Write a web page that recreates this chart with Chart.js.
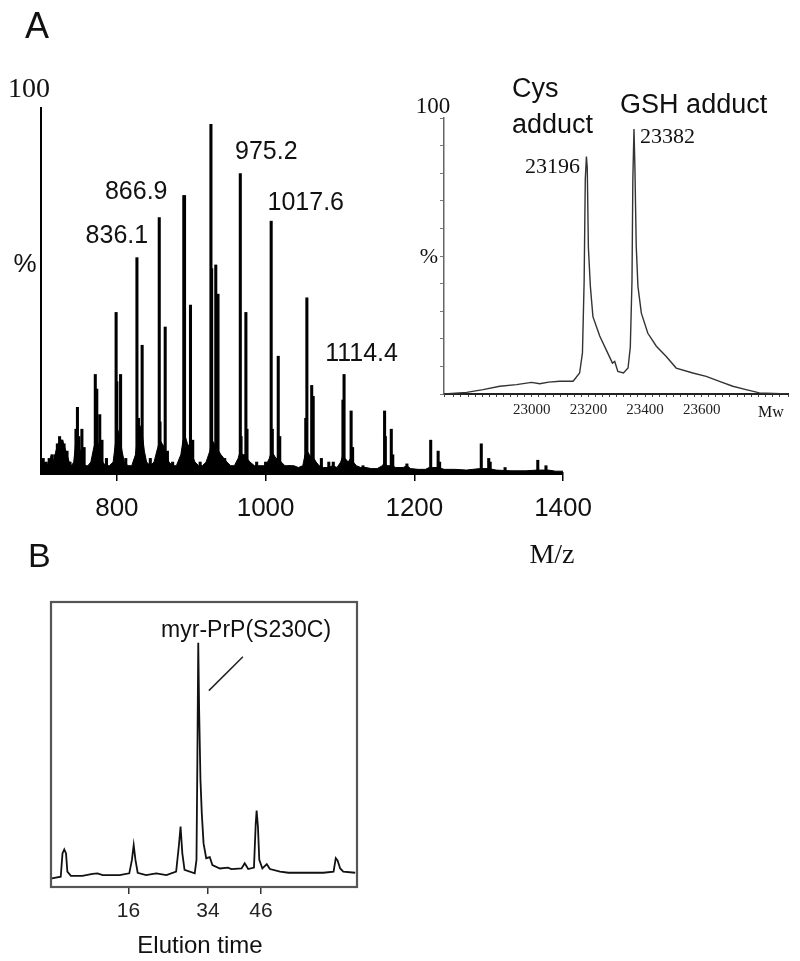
<!DOCTYPE html>
<html>
<head>
<meta charset="utf-8">
<script src="https://cdn.jsdelivr.net/npm/chart.js@4.4.1/dist/chart.umd.min.js"></script>
<style>
  body { margin: 0; background: #fff; width: 800px; height: 961px; position: relative; overflow: hidden; }
  canvas { position: absolute; }
</style>
</head>
<body>
<canvas id="canvas_ms" width="604" height="580" style="left:0;top:0"></canvas>
<canvas id="canvas_mw" width="400" height="380" style="left:400px;top:60px"></canvas>
<canvas id="canvas_hplc" width="400" height="381" style="left:0;top:580px"></canvas>
<script>
// Panel A: ESI spectrum (m/z, % intensity)
const msTicks = [800, 1000, 1200, 1400];
const stickMz = [701, 705, 709, 713, 717, 720, 723, 726, 729, 733, 737, 745, 747, 749, 753, 756, 771, 773, 777, 780,
  786, 799, 800, 805, 812, 827, 829, 834, 845, 857, 858, 865, 868, 875, 890, 891, 899, 902, 912, 926.5,
  927.5, 933, 936, 945, 966, 967, 973.5, 975, 988, 1000, 1007.5, 1009, 1017, 1019, 1032, 1054, 1055.5, 1062, 1064, 1075,
  1085, 1091, 1104, 1105.5, 1115, 1117, 1131, 1160, 1161, 1169, 1171, 1190, 1222, 1232, 1234, 1290, 1300, 1302, 1322, 1366,
  1377];
const stickInt = [4, 3, 4, 5, 5, 8, 10, 9, 8, 6, 3, 12, 18, 10, 12, 7, 27, 23, 16, 9,
  4, 44, 25, 27, 4, 59, 15, 35, 4, 70, 14, 40, 6, 3, 76, 76, 46, 9, 3, 95.5,
  56, 57, 49, 4, 82, 10, 44, 12, 3, 3, 69, 12, 32, 10, 2, 15, 48, 24, 21, 4,
  3, 3, 20, 27, 17, 7, 2, 17, 10, 12, 5, 2.5, 9, 6, 3, 8, 4, 3, 1.5, 3.5,
  2];
// dense noise under the sticks
const baseEnvelope = [[698,4],[700,2],[703,3],[706,2],[709,3],[712,5],[715,3],[718,6],[721,8],[724,9],[727,9],[730,7],
  [733,5],[736,3],[739,2],[742,3],[745,9],[748,8],[751,6],[754,5],[757,2],[761,2],[765,3],[769,7],[772,9],[775,8],
  [778,6],[781,3],[785,2],[790,2],[795,3],[798,8],[801,12],[804,10],[807,6],[810,3],[815,2],[820,2],[825,5],[828,10],
  [831,13],[834,11],[837,6],[840,3],[845,2],[850,3],[855,7],[858,9],[861,8],[864,7],[867,5],[870,3],[875,2],[880,2],
  [886,5],[889,9],[892,10],[895,8],[898,7],[901,5],[905,3],[910,2],[915,2],[920,3],[925,6],[928,9],[931,8],[934,7],
  [937,6],[940,5],[944,4],[948,3],[953,2],[958,2],[963,4],[966,6],[969,5],[972,5],[975,4],[979,3],[985,2],[990,2],
  [995,2],[1000,2],[1005,4],[1008,6],[1011,5],[1014,4],[1017,4],[1021,3],[1026,2],[1032,2],[1038,2],[1044,1.5],
  [1050,2],[1053,5],[1056,6],[1059,5],[1062,4],[1065,4],[1068,3],[1072,2],[1078,1.5],[1085,1.5],[1090,2],[1096,1.5],
  [1101,3],[1104,5],[1107,4],[1111,3],[1114,4],[1118,3],[1122,2],[1128,1.5],[1135,1.5],[1142,1.2],[1150,1.2],[1157,2],
  [1160,3],[1163,2],[1167,2],[1170,2],[1175,1.5],[1185,1.5],[1190,2],[1195,1.2],[1205,1],[1215,1],[1220,1.5],[1224,1.5],
  [1232,1.5],[1240,1],[1255,1],[1270,0.8],[1288,1.2],[1292,1.2],[1300,1.2],[1310,0.8],[1330,0.6],[1350,0.6],[1365,0.8],
  [1370,0.8],[1380,0.8],[1390,0.5],[1400,0.5]];
const msLabels = ['836.1', '866.9', '975.2', '1017.6', '1114.4'];
const msLabelMz = [800, 826, 1001, 1054, 1129];
const msLabelPct = [65, 77, 88, 74, 32.5];

// Inset: deconvoluted mass (Mw, %)
const mwTicks = [23000, 23200, 23400, 23600];
const mwCurve = [[22690,0],[22770,0.6],[22828,1.6],[22887,2.8],[22946,3.4],[22999,4.2],[23028,3.7],[23060,4.3],
  [23099,4.6],[23146,4.6],[23169,7.6],[23179,14.9],[23185,41],[23189,77.7],[23193,86],[23196,82],[23200,53],
  [23207,39],[23216,28],[23240,21],[23263,16],[23285,11.2],[23293,11.8],[23304,8.2],[23324,7.6],[23340,9.4],
  [23348,17],[23354,41],[23357,77.7],[23361,96],[23364,83.6],[23369,53.5],[23375,39],[23387,29.3],[23410,22],
  [23440,17.3],[23475,13.6],[23510,9.4],[23569,7.6],[23616,6.4],[23663,4.6],[23710,2.8],[23757,1.6],[23804,0.4],
  [23905,0]];

// Panel B: HPLC trace (elution time, signal)
const elutionTicks = [16, 34, 46];
const hplcTrace = [[-1.3,3.0],[0.7,3.6],[1.1,11.8],[1.5,13.2],[1.9,11.8],[2.2,5.4],[3.0,3.9],[5.6,3.9],[7.9,4.6],
  [9.0,4.8],[10.2,4.2],[14.0,4.2],[16.2,4.8],[16.8,9.5],[17.2,14.7],[17.6,9.5],[18.1,5.0],[20.0,4.2],[22.3,4.8],
  [24.6,4.2],[26.8,5.4],[27.4,14.2],[27.8,21.2],[28.2,11.8],[28.7,6.0],[31.0,4.8],[31.4,9.5],[31.6,44.6],[31.8,85.7],
  [32.0,62.1],[32.3,37.5],[32.6,25.9],[33.0,15.3],[33.6,10.1],[34.4,10.5],[35.0,7.7],[36.7,6.5],[38.5,6.8],[39.3,6.3],
  [41.6,6.5],[42.3,8.3],[43.1,6.3],[44.4,6.8],[44.8,22.3],[45.0,26.8],[45.3,21.1],[45.6,9.5],[46.3,6.5],[47.3,8.0],
  [48.0,6.3],[50.3,5.4],[52.2,5.0],[60.1,5.0],[62.4,5.4],[62.9,10.1],[63.3,9.3],[63.9,6.5],[64.6,5.4],[67.3,5.0]];
const leader = [[41.9, 80.8], [34.2, 68.9]];

const SANS = 'Arial, "Liberation Sans", sans-serif';
const SERIF = '"Liberation Serif", "Times New Roman", serif';

// text drawn on top of a chart, either at data values or at canvas pixels
function notes(items) {
  return {
    id: 'notes',
    afterDraw(chart) {
      const ctx = chart.ctx, xs = chart.scales.x, ys = chart.scales.y;
      ctx.save();
      items.forEach(n => {
        const x = n.data ? xs.getPixelForValue(n.x) : n.x;
        const y = n.data ? ys.getPixelForValue(n.y) : n.y;
        ctx.font = n.font;
        ctx.fillStyle = n.color || '#111';
        ctx.textAlign = n.align || 'left';
        ctx.textBaseline = n.base || 'alphabetic';
        ctx.fillText(n.text, x, y);
      });
      ctx.restore();
    }
  };
}

const noLegend = { legend: { display: false }, tooltip: { enabled: false } };

// Main spectrum
const msNotes = [
  { text: 'A', x: 25, y: 38, font: '36px ' + SANS },
  { text: 'B', x: 28, y: 567, font: '34px ' + SANS },
  { text: '100', x: 29, y: 97, font: '28px ' + SERIF, align: 'center' },
  { text: '%', x: 25, y: 272, font: '26px ' + SANS, align: 'center' },
  { text: 'M/z', x: 552, y: 563, font: '28px ' + SERIF, align: 'center' }
];
msLabels.forEach((t, i) => msNotes.push({ text: t, x: msLabelMz[i], y: msLabelPct[i], data: true,
  font: '25px ' + SANS, align: 'center', base: 'middle' }));

const canvas_ms = document.getElementById('canvas_ms');
const chart_ms = new Chart(canvas_ms, {
  type: 'bar',
  data: {
    datasets: [
      {
        type: 'bar',
        data: stickMz.map((m, i) => ({ x: m, y: stickInt[i] })),
        backgroundColor: '#000',
        barThickness: 2.4,
        order: 1
      },
      {
        type: 'line',
        data: baseEnvelope.map(p => ({ x: p[0], y: p[1] })),
        borderColor: '#000',
        borderWidth: 1,
        backgroundColor: '#000',
        fill: 'origin',
        pointRadius: 0,
        tension: 0,
        order: 2
      }
    ]
  },
  options: {
    responsive: false,
    animation: false,
    events: [],
    layout: { padding: { top: 108, right: 33, left: 0, bottom: 0 } },
    plugins: noLegend,
    scales: {
      x: {
        type: 'linear', min: 698, max: 1400, offset: false,
        afterBuildTicks: s => { s.ticks = msTicks.map(v => ({ value: v })); },
        afterFit: s => { s.height = 107; },
        grid: { display: true, drawOnChartArea: false, drawTicks: true, tickLength: 8, color: '#000', lineWidth: 1.5, offset: false },
        border: { display: true, color: '#000', width: 3 },
        ticks: { font: { family: SANS, size: 26 }, color: '#111', padding: 12, maxRotation: 0, callback: v => String(v) }
      },
      y: {
        min: 0, max: 100,
        afterFit: s => { s.width = 41; },
        grid: { display: false },
        ticks: { display: false },
        border: { display: true, color: '#000', width: 2 }
      }
    }
  },
  plugins: [notes(msNotes)]
});

// Inset deconvoluted spectrum
const mwNotes = [
  { text: 'Cys', x: 22930, y: 107.6, data: true, font: '27px ' + SANS },
  { text: 'adduct', x: 22930, y: 94.6, data: true, font: '27px ' + SANS },
  { text: 'GSH adduct', x: 23312, y: 101.8, data: true, font: '27px ' + SANS },
  { text: '23196', x: 23170, y: 80, data: true, font: '22px ' + SERIF, align: 'right' },
  { text: '23382', x: 23382, y: 91, data: true, font: '22px ' + SERIF },
  { text: '100', x: 33, y: 53, font: '23px ' + SERIF, align: 'center' },
  { text: '%', x: 29, y: 203, font: '22px ' + SERIF, align: 'center' },
  { text: 'Mw', x: 358, y: 357, font: '16px ' + SERIF }
];
const canvas_mw = document.getElementById('canvas_mw');
const chart_mw = new Chart(canvas_mw, {
  type: 'line',
  data: {
    datasets: [{
      data: mwCurve.map(p => ({ x: p[0], y: p[1] })),
      borderColor: '#333',
      borderWidth: 1.4,
      pointRadius: 0,
      tension: 0
    }]
  },
  options: {
    responsive: false,
    animation: false,
    events: [],
    layout: { padding: { top: 58, right: 12, left: 0, bottom: 0 } },
    plugins: noLegend,
    scales: {
      x: {
        type: 'linear', min: 22690, max: 23905,
        afterFit: s => { s.height = 46; },
        grid: { display: true, drawOnChartArea: false, tickLength: 3, color: '#444' },
        border: { display: true, color: '#222', width: 2 },
        ticks: {
          stepSize: 25, autoSkip: false, maxRotation: 0, padding: 4,
          font: { family: SERIF, size: 15 }, color: '#222',
          callback: v => mwTicks.includes(v) ? String(v) : ''
        }
      },
      y: {
        min: 0, max: 100,
        afterFit: s => { s.width = 44; },
        grid: { display: true, drawOnChartArea: false, tickLength: 4, color: '#777' },
        border: { display: true, color: '#666', width: 1.5 },
        ticks: { display: false, stepSize: 10 }
      }
    }
  },
  plugins: [notes(mwNotes)]
});

// Panel B chromatogram
const frame = {
  id: 'frame',
  afterDraw(chart) {
    const { ctx, chartArea: a } = chart;
    const xs = chart.scales.x, ys = chart.scales.y;
    ctx.save();
    ctx.strokeStyle = '#555';
    ctx.lineWidth = 2.2;
    ctx.strokeRect(a.left, a.top, a.right - a.left, a.bottom - a.top);
    ctx.strokeStyle = '#222';
    ctx.lineWidth = 1.5;
    ctx.beginPath();
    ctx.moveTo(xs.getPixelForValue(leader[0][0]), ys.getPixelForValue(leader[0][1]));
    ctx.lineTo(xs.getPixelForValue(leader[1][0]), ys.getPixelForValue(leader[1][1]));
    ctx.stroke();
    ctx.restore();
  }
};
const hplcNotes = [
  { text: 'myr-PrP(S230C)', x: 23.4, y: 87.7, data: true, font: '23px ' + SANS },
  { text: 'Elution time', x: 200, y: 373, font: '24px ' + SANS, align: 'center' }
];
const canvas_hplc = document.getElementById('canvas_hplc');
const chart_hplc = new Chart(canvas_hplc, {
  type: 'line',
  data: {
    datasets: [{
      data: hplcTrace.map(p => ({ x: p[0], y: p[1] })),
      borderColor: '#111',
      borderWidth: 1.8,
      pointRadius: 0,
      tension: 0
    }]
  },
  options: {
    responsive: false,
    animation: false,
    events: [],
    layout: { padding: { top: 22, right: 43, left: 0, bottom: 0 } },
    plugins: noLegend,
    scales: {
      x: {
        type: 'linear', min: -1.5, max: 67.7,
        afterBuildTicks: s => { s.ticks = elutionTicks.map(v => ({ value: v })); },
        afterFit: s => { s.height = 74; },
        grid: { display: true, drawOnChartArea: false, tickLength: 7, color: '#333', lineWidth: 1.5 },
        border: { display: false },
        ticks: { font: { family: SANS, size: 21 }, color: '#222', padding: 5, maxRotation: 0 }
      },
      y: {
        min: 0, max: 100,
        afterFit: s => { s.width = 51; },
        grid: { display: false },
        ticks: { display: false },
        border: { display: false }
      }
    }
  },
  plugins: [frame, notes(hplcNotes)]
});
</script>
</body>
</html>
